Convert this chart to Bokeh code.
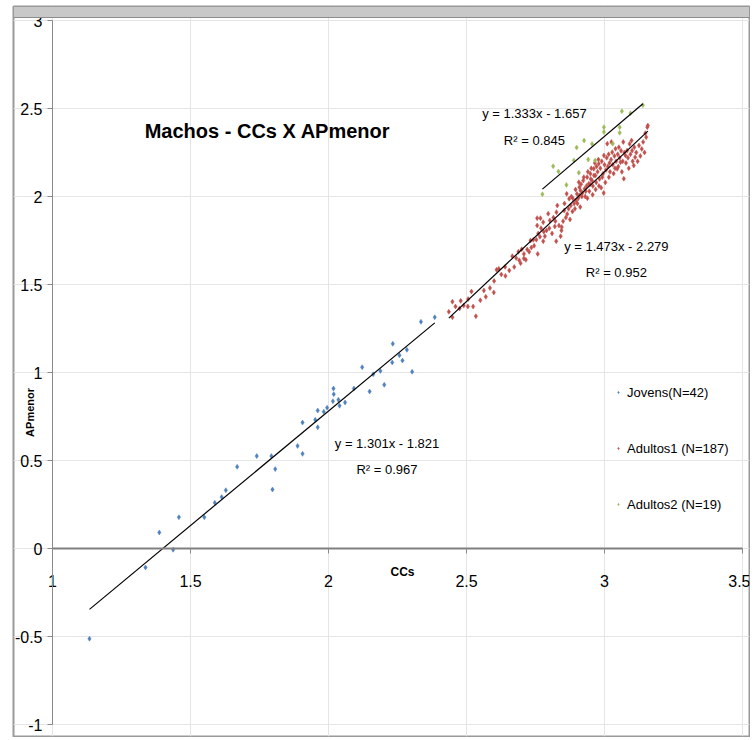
from bokeh.plotting import figure
from bokeh.models import (Range1d, LinearAxis, FixedTicker, NumeralTickFormatter,
                          Label, Legend, LegendItem, BoxAnnotation)
from bokeh.embed import file_html
from bokeh.resources import INLINE

FONT = "Liberation Sans"

# ---------------- data ----------------
X_TICKS = [1, 1.5, 2, 2.5, 3, 3.5]
Y_TICKS = [-1, -0.5, 0, 0.5, 1, 1.5, 2, 2.5, 3]

SERIES_NAMES = ["Jovens(N=42)", "Adultos1 (N=187)", "Adultos2 (N=19)"]
SERIES_COLORS = ["#4F81BD", "#C0504D", "#9BBB59"]

JOV_X = [1.134, 1.337, 1.387, 1.437, 1.458, 1.550, 1.588, 1.613, 1.628, 1.669,
         1.740, 1.793, 1.797, 1.807, 1.888, 1.906, 1.906, 1.952, 1.961, 1.961,
         1.983, 2.016, 2.019, 2.018, 2.036, 2.040, 2.060, 2.092, 2.122, 2.149,
         2.162, 2.188, 2.202, 2.231, 2.233, 2.257, 2.268, 2.284, 2.303, 2.335,
         2.385, 1.995]
JOV_Y = [-0.513, -0.108, 0.091, -0.007, 0.178, 0.178, 0.260, 0.292, 0.331, 0.464,
         0.525, 0.525, 0.335, 0.451, 0.583, 0.538, 0.716, 0.731, 0.689, 0.784,
         0.777, 0.837, 0.877, 0.909, 0.845, 0.811, 0.830, 0.909, 1.030, 0.892,
         0.990, 1.009, 0.930, 1.057, 1.163, 1.098, 1.068, 1.129, 1.004, 1.288,
         1.314, 0.800]

ADU1_X = [2.436, 2.449, 2.449, 2.460, 2.475, 2.479, 2.506, 2.505, 2.518, 2.524,
          2.534, 2.563, 2.599, 2.609, 2.617, 2.626, 2.641, 2.666, 2.673, 2.688,
          2.691, 2.696, 2.708, 2.708, 2.720, 2.727, 2.732, 2.742, 2.753, 2.758,
          2.766, 2.778, 2.784, 2.790, 2.756, 2.778, 2.822, 2.835, 2.844, 2.841,
          2.825, 2.756, 2.768, 2.796, 2.802, 2.826, 2.829, 2.845, 2.854, 2.863,
          2.872, 2.878, 2.884, 2.897, 2.900, 2.909, 2.909, 2.907, 2.913, 2.923,
          2.928, 2.937, 2.943, 2.949, 2.955, 2.961, 2.967, 2.971, 2.979, 2.992,
          2.998, 3.016, 3.028, 3.040, 3.046, 3.052, 3.058, 3.070, 3.076, 3.082,
          3.091, 3.098, 3.100, 3.106, 3.111, 3.151, 3.155, 3.157, 2.860, 2.870,
          2.880, 2.890, 2.895, 2.905, 2.915, 2.920, 2.925, 2.930, 2.935, 2.940,
          2.945, 2.950, 2.952, 2.958, 2.962, 2.965, 2.970, 2.975, 2.978, 2.982,
          2.985, 2.988, 2.990, 2.995, 3.000, 3.003, 3.005, 3.008, 3.012, 3.015,
          3.018, 3.020, 3.024, 3.030, 3.033, 3.036, 3.042, 3.048, 3.050, 3.055,
          3.060, 3.063, 3.066, 3.072, 3.078, 3.085, 3.088, 3.094, 3.102, 3.108,
          3.115, 3.120, 3.125, 3.130, 3.135, 3.140, 3.145, 3.148, 2.800, 2.810,
          2.815, 2.820, 2.850, 2.855, 2.865, 2.875, 2.885, 2.893, 2.902, 2.912,
          2.918, 2.932, 2.938, 2.948, 2.957, 2.968, 2.980, 2.997, 2.640, 2.655,
          2.680, 2.700, 2.715, 2.735, 2.745, 2.760, 2.770, 2.780, 2.585, 2.570,
          2.550, 2.490, 2.600, 3.010, 3.025, 3.038, 3.068]
ADU1_Y = [1.345, 1.314, 1.402, 1.375, 1.364, 1.407, 1.417, 1.375, 1.460, 1.375,
          1.320, 1.466, 1.455, 1.584, 1.589, 1.557, 1.549, 1.661, 1.600, 1.686,
          1.638, 1.621, 1.674, 1.648, 1.699, 1.686, 1.750, 1.754, 1.754, 1.674,
          1.771, 1.746, 1.774, 1.807, 1.835, 1.854, 1.860, 1.835, 1.807, 1.774,
          1.746, 1.877, 1.877, 1.902, 1.864, 1.911, 1.949, 1.826, 1.920, 2.015,
          1.987, 1.949, 1.915, 1.977, 2.015, 2.053, 2.006, 2.081, 2.034, 2.091,
          2.044, 2.110, 2.072, 2.129, 2.091, 2.157, 2.119, 2.170, 2.186, 2.110,
          2.233, 2.110, 2.252, 2.271, 2.157, 2.280, 2.195, 2.101, 2.233, 2.261,
          2.299, 2.318, 2.261, 2.176, 2.223, 2.337, 2.394, 2.403, 1.880, 1.930,
          2.000, 1.960, 2.040, 1.990, 2.070, 2.020, 2.110, 2.000, 2.060, 2.140,
          2.030, 2.100, 2.160, 2.060, 2.120, 2.190, 2.080, 2.140, 2.210, 2.100,
          2.160, 2.050, 2.200, 2.130, 2.180, 2.080, 2.150, 2.220, 2.170, 2.240,
          2.190, 2.140, 2.210, 2.180, 2.130, 2.230, 2.200, 2.240, 2.170, 2.220,
          2.260, 2.140, 2.200, 2.250, 2.190, 2.220, 2.160, 2.240, 2.200, 2.280,
          2.250, 2.200, 2.290, 2.230, 2.270, 2.310, 2.250, 2.360, 1.820, 1.790,
          1.880, 1.830, 1.860, 1.960, 1.900, 1.870, 1.990, 1.930, 1.960, 1.940,
          2.000, 2.030, 1.990, 2.070, 2.010, 2.040, 2.060, 2.020, 1.600, 1.580,
          1.650, 1.700, 1.640, 1.710, 1.720, 1.790, 1.820, 1.800, 1.480, 1.430,
          1.410, 1.380, 1.520, 2.300, 2.310, 2.160, 2.310]

ADU2_X = [3.139, 3.063, 3.094, 2.998, 2.998, 3.055, 3.055, 2.926, 2.955, 2.899,
          2.889, 2.941, 2.966, 2.814, 2.833, 2.907, 2.862, 2.775, 3.030]
ADU2_Y = [2.519, 2.485, 2.473, 2.394, 2.366, 2.394, 2.362, 2.318, 2.299, 2.278,
          2.205, 2.210, 2.205, 2.172, 2.142, 2.135, 2.066, 2.013, 2.300]

# trend lines (slope, intercept, R²)
SLOPES = [1.301, 1.473, 1.333]
INTERCEPTS = [-1.821, -2.279, -1.657]
R2 = [0.967, 0.952, 0.845]

TITLE = "Machos - CCs X APmenor"
X_LABEL = "CCs"
Y_LABEL = "APmenor"

# ---------------- figure ----------------
p = figure(width=750, height=737, output_backend="svg", toolbar_location=None,
           x_range=Range1d(0.85870, 3.52536), y_range=Range1d(-1.06818, 3.07955),
           x_axis_location=None, y_axis_location=None,
           min_border_left=13, min_border_right=1, min_border_top=6, min_border_bottom=1,
           background_fill_color="white", border_fill_color="white")
p.outline_line_color = "#9a9a9a"
p.outline_line_width = 2

# top bevel band
p.add_layout(BoxAnnotation(bottom=3.017, top=3.07955, fill_color="#c8c8c8", fill_alpha=1.0,
                           line_color="#8c8c8c", line_alpha=1.0, line_width=1))

fmt = NumeralTickFormatter(format="0.[0]")

yaxis = LinearAxis(fixed_location=1.0, bounds=(Y_TICKS[0], Y_TICKS[-1]),
                   ticker=FixedTicker(ticks=Y_TICKS), formatter=fmt)
yaxis.axis_line_color = "#8a8a8a"
yaxis.axis_line_width = 1
yaxis.major_tick_line_color = "#8a8a8a"
yaxis.major_tick_out = 5
yaxis.major_tick_in = 0
yaxis.minor_tick_out = 0
yaxis.minor_tick_in = 0
yaxis.major_label_text_font = FONT
yaxis.major_label_text_font_size = "16px"
yaxis.major_label_text_color = "black"
yaxis.major_label_standoff = 5
p.add_layout(yaxis, "left")

xaxis = LinearAxis(fixed_location=0.0, bounds=(X_TICKS[0], X_TICKS[-1]),
                   ticker=FixedTicker(ticks=X_TICKS), formatter=fmt)
xaxis.axis_line_color = "#808080"
xaxis.axis_line_width = 2
xaxis.major_tick_line_color = "#8a8a8a"
xaxis.major_tick_out = 5
xaxis.major_tick_in = 0
xaxis.minor_tick_out = 0
xaxis.minor_tick_in = 0
xaxis.major_label_text_font = FONT
xaxis.major_label_text_font_size = "16px"
xaxis.major_label_text_color = "black"
xaxis.major_label_standoff = 21
p.add_layout(xaxis, "below")

series = [(JOV_X, JOV_Y), (ADU1_X, ADU1_Y), (ADU2_X, ADU2_Y)]
renderers = []
for (xs, ys), color, m, b in zip(series, SERIES_COLORS, SLOPES, INTERCEPTS):
    r = p.scatter(xs, ys, marker="diamond", size=5, fill_color=color, line_color=color,
                  line_width=0.5)
    renderers.append(r)
    x0, x1 = min(xs), max(xs)
    p.line([x0, x1], [m * x0 + b, m * x1 + b], line_color="black", line_width=1.2)

legend = Legend(items=[LegendItem(label=n, renderers=[r]) for n, r in zip(SERIES_NAMES, renderers)],
                location=(602, 222), orientation="vertical",
                glyph_width=6, glyph_height=20, label_height=20, label_standoff=6,
                spacing=36, padding=0, margin=0,
                border_line_alpha=0, background_fill_alpha=0,
                label_text_font=FONT, label_text_font_size="13px", label_text_color="black")
p.add_layout(legend)

def add_text(x, y, txt, size, bold=False, angle=0.0, align="center"):
    p.add_layout(Label(x=x, y=y, text=txt, text_font=FONT, text_font_size=size,
                       text_font_style="bold" if bold else "normal", text_color="black",
                       text_align=align, text_baseline="middle", angle=angle))

add_text(1.779, 2.375, TITLE, "20px", bold=True)

eq_pos = [(2.212, 0.597, 0.449), (3.043, 1.716, 1.568), (2.746, 2.472, 2.318)]
for (ex, ey1, ey2), m, b, r2 in zip(eq_pos, SLOPES, INTERCEPTS, R2):
    add_text(ex, ey1, f"y = {m:.3f}x - {abs(b):.3f}", "13px")
    add_text(ex, ey2, f"R² = {r2:.3f}", "13px")

add_text(2.268, -0.136, X_LABEL, "12px", bold=True)
add_text(0.920, 0.773, Y_LABEL, "11px", bold=True, angle=1.5708)

open("out.html", "w").write(file_html(p, INLINE))
